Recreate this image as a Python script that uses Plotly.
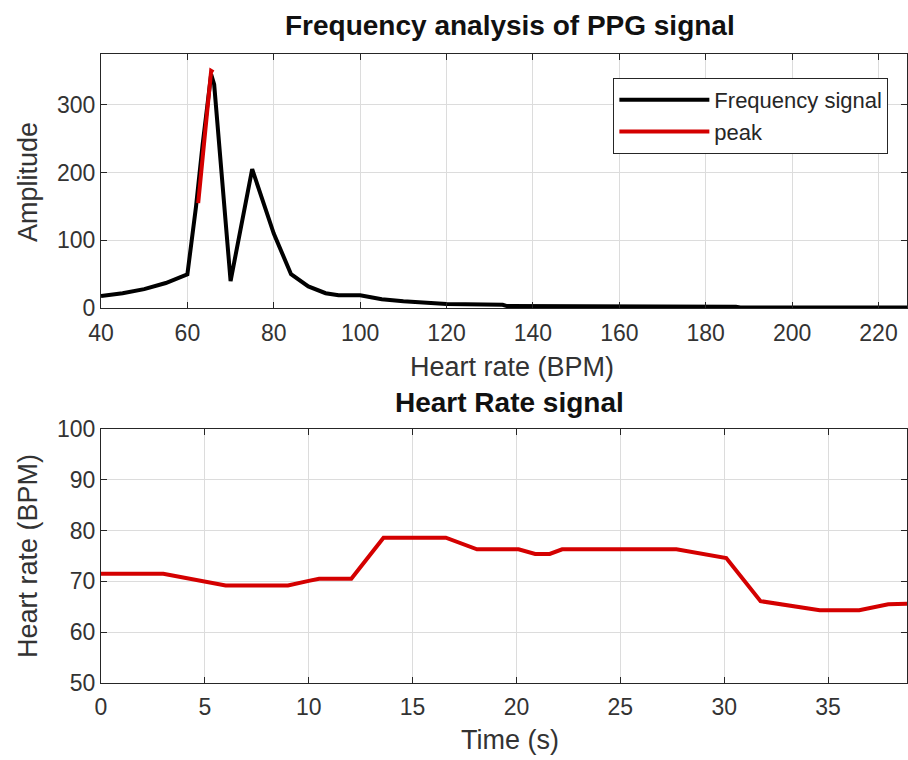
import plotly.graph_objects as go
from plotly.subplots import make_subplots

# Frequency analysis data
freq_bpm = [40, 45, 50, 55, 60, 62, 63.5, 65.5, 66.2, 70, 75, 80, 84, 88, 92, 95, 100, 102, 105,
            110, 115, 120, 133, 134, 187, 188, 227]
freq_amp = [18, 22, 28, 37, 50, 150, 240, 345, 330, 40, 205, 110, 50, 32, 22, 19, 19, 17, 13,
            10, 8, 6, 5, 3, 2, 1, 1]
peak_bpm = [62.5, 64, 65.5, 66]
peak_amp = [155, 250, 350, 348]

# Heart rate signal data
hr_time = [0, 3.0, 6.0, 9.0, 10.0, 10.5, 12.05, 13.6, 16.6, 18.1, 20.1, 20.9, 21.6, 22.2,
           27.7, 30.1, 31.75, 34.6, 36.5, 37.9, 38.8]
hr_bpm = [71.5, 71.5, 69.2, 69.2, 70.1, 70.5, 70.5, 78.6, 78.6, 76.3, 76.3, 75.4, 75.4, 76.3,
          76.3, 74.6, 66.1, 64.3, 64.3, 65.5, 65.6]

freq_ticks = [40, 60, 80, 100, 120, 140, 160, 180, 200, 220]
amp_ticks = [0, 100, 200, 300]
time_ticks = [0, 5, 10, 15, 20, 25, 30, 35]
hr_ticks = [50, 60, 70, 80, 90, 100]

fig = make_subplots(rows=2, cols=1, vertical_spacing=0.192)

fig.add_trace(go.Scatter(x=freq_bpm, y=freq_amp, mode="lines", name="Frequency signal",
                         line=dict(color="black", width=4)), row=1, col=1)
fig.add_trace(go.Scatter(x=peak_bpm, y=peak_amp, mode="lines", name="peak",
                         line=dict(color="#d40000", width=4)), row=1, col=1)
fig.add_trace(go.Scatter(x=hr_time, y=hr_bpm, mode="lines", name="Heart rate",
                         showlegend=False, line=dict(color="#d40000", width=4)), row=2, col=1)

FONT = "Liberation Sans, Arial, sans-serif"
axis_common = dict(showline=True, linecolor="#262626", linewidth=1, mirror="allticks",
                   ticks="inside", ticklen=6, tickcolor="#262626",
                   showgrid=True, gridcolor="#dcdcdc", gridwidth=1, zeroline=False,
                   tickfont=dict(family=FONT, size=23, color="#333333"))

fig.update_xaxes(range=[40, 226.6], tickvals=freq_ticks, ticklabelstandoff=4,
                 row=1, col=1, **axis_common)
fig.update_yaxes(range=[0, 375], tickvals=amp_ticks, row=1, col=1, **axis_common)
fig.update_xaxes(range=[0, 38.8], tickvals=time_ticks, ticklabelstandoff=3,
                 row=2, col=1, **axis_common)
fig.update_yaxes(range=[50, 100], tickvals=hr_ticks, row=2, col=1, **axis_common)

fig.update_layout(
    xaxis=dict(domain=[0, 1]), yaxis=dict(domain=[0.596, 1]),
    xaxis2=dict(domain=[0, 1]), yaxis2=dict(domain=[0, 0.404]),
)

lab = dict(family=FONT, size=27, color="#333333")
ttl = dict(family=FONT, size=28, color="#111111")
H = 629.0
W = 807.0
def py(px):
    return (683 - px) / H
def pxx(px):
    return (px - 101) / W

annotations = [
    dict(text="<b>Frequency analysis of PPG signal</b>", x=pxx(511), y=py(26), font=ttl),
    dict(text="<b>Heart Rate signal</b>", x=pxx(510), y=py(403), font=ttl),
    dict(text="Heart rate (BPM)", x=pxx(513), y=py(367), font=lab),
    dict(text="Time (s)", x=pxx(511), y=py(740), font=lab),
    dict(text="Amplitude", x=pxx(28), y=py(182), font=lab, textangle=-90),
    dict(text="Heart rate (BPM)", x=pxx(28), y=py(556), font=lab, textangle=-90),
]
for a in annotations:
    a.update(xref="paper", yref="paper", showarrow=False, xanchor="center", yanchor="middle")

fig.update_layout(
    width=908, height=760,
    margin=dict(l=101, r=1, t=54, b=77),
    paper_bgcolor="white", plot_bgcolor="white",
    annotations=annotations,
    showlegend=True,
    legend=dict(x=pxx(614), y=py(78), xanchor="left", yanchor="top",
                bordercolor="#262626", borderwidth=1, bgcolor="white",
                font=dict(family=FONT, size=22, color="#262626"),
                tracegroupgap=0, itemwidth=90),
)

fig.write_html("out.html", config={"displayModeBar": False},
               post_script="document.body.style.margin='0px';")
